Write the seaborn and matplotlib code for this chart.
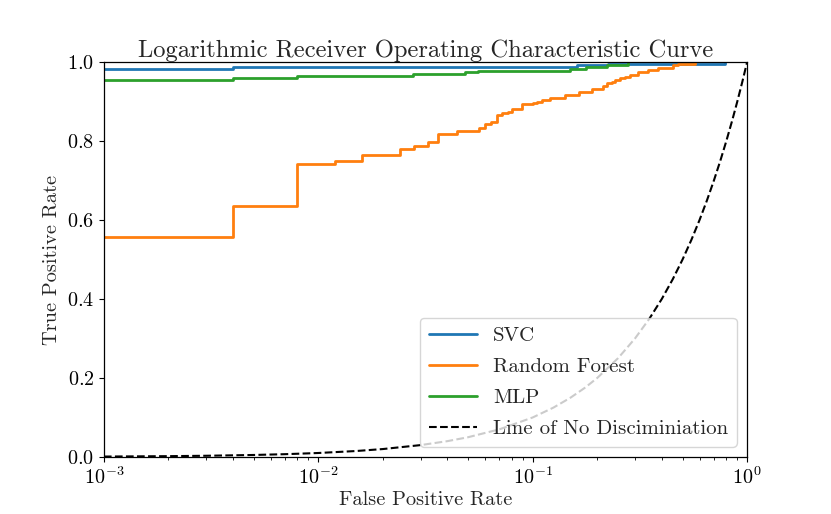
import numpy as np
import pandas as pd
import matplotlib
matplotlib.use("Agg")
import matplotlib.pyplot as plt
import seaborn as sns

# ROC points (fpr where the step happens, new tpr level)
svc_fpr = [0.001, 0.0040, 0.161, 0.225, 0.789]
svc_tpr = [0.984, 0.988, 0.992, 0.995, 1.000]

rf_fpr = [0.001, 0.0040, 0.00795, 0.0120, 0.0160, 0.0240, 0.0280, 0.0325,
          0.0361, 0.0444, 0.0562, 0.0600, 0.0640, 0.0683, 0.0720, 0.0768,
          0.0802, 0.0892, 0.1004, 0.1048, 0.1106, 0.1205, 0.1416, 0.1645,
          0.1893, 0.2130, 0.2223, 0.2344, 0.2421, 0.2558, 0.2698, 0.2845,
          0.3103, 0.3454, 0.3845, 0.4518, 0.4767, 0.5718]
rf_tpr = [0.557, 0.636, 0.742, 0.749, 0.765, 0.779, 0.788, 0.798,
          0.818, 0.825, 0.833, 0.843, 0.848, 0.866, 0.871, 0.875,
          0.881, 0.894, 0.896, 0.899, 0.904, 0.909, 0.916, 0.924,
          0.932, 0.939, 0.947, 0.951, 0.954, 0.959, 0.962, 0.967,
          0.975, 0.980, 0.985, 0.992, 0.995, 1.000]

mlp_fpr = [0.001, 0.0040, 0.00795, 0.0277, 0.0484, 0.0556, 0.149, 0.177, 0.222, 0.279]
mlp_tpr = [0.954, 0.960, 0.965, 0.969, 0.974, 0.978, 0.982, 0.987, 0.992, 1.000]

# chance diagonal (tpr == fpr)
diag = [0.001, 0.002, 0.003, 0.005, 0.007, 0.01, 0.015, 0.02, 0.03, 0.04, 0.05,
        0.07, 0.1, 0.125, 0.15, 0.175, 0.2, 0.25, 0.3, 0.35, 0.4, 0.45, 0.5,
        0.55, 0.6, 0.65, 0.7, 0.75, 0.8, 0.85, 0.9, 0.95, 1.0]

sns.set_style("ticks")
plt.rcParams["font.family"] = "cmr10"
plt.rcParams["mathtext.fontset"] = "cm"
plt.rcParams["axes.formatter.use_mathtext"] = True
plt.rcParams["axes.unicode_minus"] = False

colors = sns.color_palette("tab10")

fig, ax = plt.subplots(figsize=(8.31, 5.14), dpi=100)

sns.lineplot(x=svc_fpr, y=svc_tpr, ax=ax, color=colors[0], lw=2,
             drawstyle="steps-post", estimator=None, sort=False, label="SVC")
sns.lineplot(x=rf_fpr, y=rf_tpr, ax=ax, color=colors[1], lw=2,
             drawstyle="steps-post", estimator=None, sort=False, label="Random Forest")
sns.lineplot(x=mlp_fpr, y=mlp_tpr, ax=ax, color=colors[2], lw=2,
             drawstyle="steps-post", estimator=None, sort=False, label="MLP")
sns.lineplot(x=diag, y=diag, ax=ax, color="black", lw=1.5, linestyle="--",
             estimator=None, sort=False, label="Line of No Disciminiation")

ax.set_xscale("log")
ax.set_xlim(1e-3, 1)
ax.set_ylim(0, 1)
ax.set_yticks([0.0, 0.2, 0.4, 0.6, 0.8, 1.0])
for s in ax.spines.values():
    s.set_color("black")
    s.set_linewidth(0.9)
ax.tick_params(axis="both", which="both", colors="black", labelsize=14.5)

ax.set_title("Logarithmic Receiver Operating Characteristic Curve", fontsize=17.7, pad=3)
ax.set_xlabel("False Positive Rate", fontsize=14.7, labelpad=2)
ax.set_ylabel("True Positive Rate", fontsize=14.7)

ax.legend(loc="lower right", fontsize=15, handlelength=2.3, labelspacing=0.6,
          framealpha=0.8)

plt.subplots_adjust(left=0.125, right=0.899, top=0.879, bottom=0.111)
plt.savefig("out.png", dpi=100)
